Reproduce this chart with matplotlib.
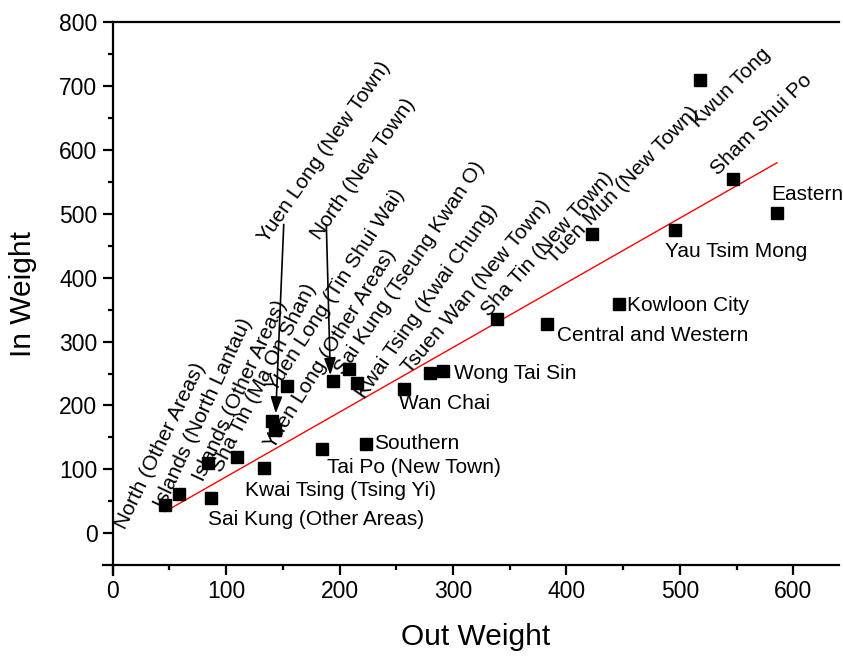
import matplotlib
matplotlib.use("Agg")
import matplotlib.pyplot as plt
import numpy as np

plt.rcParams["font.family"] = ["Liberation Sans", "DejaVu Sans"]

# district weights (out / in)
districts = [
    "North (Other Areas)", "Islands (North Lantau)", "Sai Kung (Other Areas)",
    "Islands (Other Areas)", "Sha Tin (Ma On Shan)", "Kwai Tsing (Tsing Yi)",
    "Yuen Long (New Town)", "Yuen Long (Other Areas)", "Yuen Long (Tin Shui Wai)",
    "Tai Po (New Town)", "North (New Town)", "Sai Kung (Tseung Kwan O)",
    "Kwai Tsing (Kwai Chung)", "Southern", "Wan Chai", "Tsuen Wan (New Town)",
    "Wong Tai Sin", "Sha Tin (New Town)", "Central and Western",
    "Tuen Mun (New Town)", "Kowloon City", "Yau Tsim Mong", "Kwun Tong",
    "Sham Shui Po", "Eastern",
]
out_weight = [46.2, 58.6, 86.4, 84.3, 109.3, 133.6, 140.2, 143.0, 153.4, 184.2,
              194.5, 208.6, 215.0, 223.3, 256.5, 280.0, 291.0, 339.0, 383.0,
              422.5, 446.3, 495.4, 517.7, 546.5, 585.6]
in_weight = [44.4, 61.0, 55.0, 110.0, 119.0, 102.0, 175.0, 162.0, 230.0, 132.0,
             238.0, 257.0, 235.0, 140.0, 225.0, 251.0, 254.0, 336.0, 328.0,
             469.0, 358.0, 475.0, 709.0, 555.0, 501.6]

# linear fit (In = a * Out + b)
fit_slope = 1.012
fit_intercept = -12.8

# label placement: offset from marker in pixels (dx, dy) and rotation
label_layout = {
    "North (Other Areas)": (-40, -25, 64),
    "Islands (North Lantau)": (-15, -15, 65),
    "Sai Kung (Other Areas)": (-3, -27, 0),
    "Islands (Other Areas)": (-5, -19, 65),
    "Sha Tin (Ma On Shan)": (-15, -16, 63),
    "Kwai Tsing (Tsing Yi)": (-19, -28, 0),
    "Yuen Long (New Town)": (-5, 178, 55),
    "Yuen Long (Other Areas)": (-1, -20, 58),
    "Yuen Long (Tin Shui Wai)": (-11, -7, 57),
    "Tai Po (New Town)": (5, -24, 0),
    "North (New Town)": (-14, 140, 55),
    "Sai Kung (Tseung Kwan O)": (-6, -7, 56),
    "Kwai Tsing (Kwai Chung)": (8, -17, 55),
    "Southern": (8, -5, 0),
    "Wan Chai": (-5, -20, 0),
    "Tsuen Wan (New Town)": (-20, -2, 50),
    "Wong Tai Sin": (11, -8, 0),
    "Sha Tin (New Town)": (-8, 1, 48),
    "Central and Western": (10, -17, 0),
    "Tuen Mun (New Town)": (-38, -31, 46),
    "Kowloon City": (8, -7, 0),
    "Yau Tsim Mong": (-10, -27, 0),
    "Kwun Tong": (-2, -48, 45),
    "Sham Shui Po": (-15, 3, 45),
    "Eastern": (-6, 13, 0),
}
# leader arrows: (start offset, tip offset) in pixels from the marker
arrows = {
    "Yuen Long (New Town)": ((8, 189), (4, 8)),
    "North (New Town)": ((-4, 150), (-3, 6)),
}

fig = plt.figure(figsize=(8.43, 6.56), dpi=100)
ax = fig.add_axes([0.1337, 0.1384, 0.8612, 0.828])

ax.set_xticks(np.arange(0, 601, 100))
ax.set_xticks(np.arange(50, 551, 100), minor=True)
ax.set_yticks(np.arange(0, 801, 100))
ax.set_yticks(np.arange(50, 751, 100), minor=True)
ax.set_xlim(0, 640)
ax.set_ylim(-50, 800)

ax.plot(out_weight, in_weight, "s", color="black", ms=8.6, zorder=3)

fx = np.array([min(out_weight), max(out_weight)])
ax.plot(fx, fit_slope * fx + fit_intercept, color="red", lw=1.0, zorder=2)

for name, x, y in zip(districts, out_weight, in_weight):
    dx, dy, rot = label_layout[name]
    ax.annotate(name, (x, y), xytext=(dx, dy), textcoords="offset pixels",
                rotation=rot, rotation_mode="anchor", ha="left", va="baseline",
                fontsize=15, color="black", zorder=4)
    if name in arrows:
        (sx, sy), (tx, ty) = arrows[name]
        px, py = ax.transData.transform((x, y))
        tip = ax.transData.inverted().transform((px + tx, py + ty))
        ax.annotate("", xy=tip, xytext=(sx, sy), xycoords="data",
                    textcoords="offset pixels",
                    arrowprops=dict(arrowstyle="-|>,head_length=1.0,head_width=0.35",
                                    color="black", lw=1.2, shrinkA=0, shrinkB=0),
                    zorder=4)

for side in ("left", "bottom", "top"):
    ax.spines[side].set_linewidth(1.6)
ax.spines["right"].set_visible(False)
ax.tick_params(which="major", direction="out", length=7, width=1.6, labelsize=16.5, pad=4)
ax.tick_params(which="minor", direction="out", length=3.8, width=1.6)

# small overshoot where the two axes cross
ax.plot([0, 0], [-0.018, 0], transform=ax.transAxes, color="black", lw=1.6, clip_on=False)
ax.plot([-0.013, 0], [0, 0], transform=ax.transAxes, color="black", lw=1.6, clip_on=False)

ax.set_xlabel("Out Weight", fontsize=21.5, labelpad=14)
ax.set_ylabel("In Weight", fontsize=21.5, labelpad=16)

fig.savefig("out.png", dpi=100, facecolor="white")
